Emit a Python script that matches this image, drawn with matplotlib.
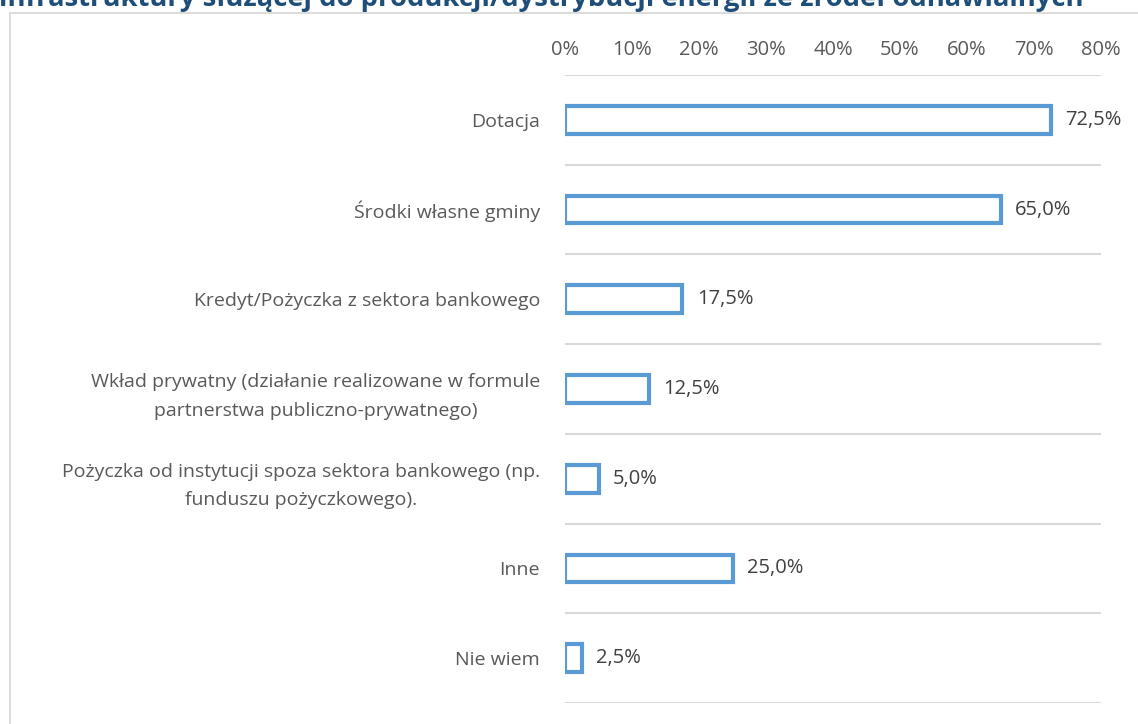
import matplotlib
matplotlib.use("Agg")
import matplotlib.pyplot as plt
from matplotlib.patches import Rectangle

plt.rcParams["font.family"] = ["Open Sans", "DejaVu Sans"]
plt.rcParams["font.stretch"] = "normal"

categories = [
    "Dotacja",
    "Środki własne gminy",
    "Kredyt/Pożyczka z sektora bankowego",
    "Wkład prywatny (działanie realizowane w formule\npartnerstwa publiczno-prywatnego)",
    "Pożyczka od instytucji spoza sektora bankowego (np.\nfunduszu pożyczkowego).",
    "Inne",
    "Nie wiem",
]
values = [72.5, 65.0, 17.5, 12.5, 5.0, 25.0, 2.5]
x_ticks = [0, 10, 20, 30, 40, 50, 60, 70, 80]
title = "infrastruktury służącej do produkcji/dystrybucji energii ze źródeł odnawialnych"

W, H = 1138, 724
fig = plt.figure(figsize=(W / 100, H / 100), dpi=100)
fig.patch.set_facecolor("white")

# chart frame (continues past the right and bottom edges)
fig.patches.append(Rectangle((10 / W, -0.2), 1.5, 1.2 - 13 / H,
                             transform=fig.transFigure, fill=False,
                             edgecolor="#D9D9D9", linewidth=1.3, zorder=0))

# heading, partly above the top edge
fig.text(-1 / W, 1 - 6 / H, title, ha="left", va="baseline",
         fontsize=19.7, fontweight="bold", color="#1F4E79")

left, right, top, bottom = 565 / W, 1101 / W, 1 - 75 / H, 1 - 703 / H
ax = fig.add_axes([left, bottom, right - left, top - bottom])

n = len(categories)
ypos = list(range(n))
ax.barh(ypos, values, height=0.31, facecolor="white", edgecolor="#5B9BD5",
        linewidth=3.0, zorder=3)

for y, v in zip(ypos, values):
    ax.text(v + 2.2, y, f"{v:.1f}%".replace(".", ","), va="center", ha="left",
            fontsize=14.5, fontstretch="normal", color="#404040", zorder=4)

ax.set_xlim(0, 80)
ax.set_ylim(n - 0.5, -0.5)
ax.set_xticks(x_ticks)
ax.set_xticklabels([f"{t}%" for t in x_ticks])
ax.xaxis.tick_top()
ax.tick_params(axis="x", length=0, pad=11, labelsize=14.5, labelcolor="#595959")
ax.set_yticks(ypos)
ax.set_yticklabels(categories)
ax.tick_params(axis="y", length=0, pad=18, labelsize=14, labelcolor="#595959")
for lbl in ax.get_yticklabels():
    lbl.set_multialignment("center")
    lbl.set_linespacing(1.75)

for b in range(n + 1):
    ax.axhline(b - 0.5, color="#D9D9D9", linewidth=1.5, zorder=1)

for s in ax.spines.values():
    s.set_visible(False)

fig.savefig("out.png", dpi=100)
